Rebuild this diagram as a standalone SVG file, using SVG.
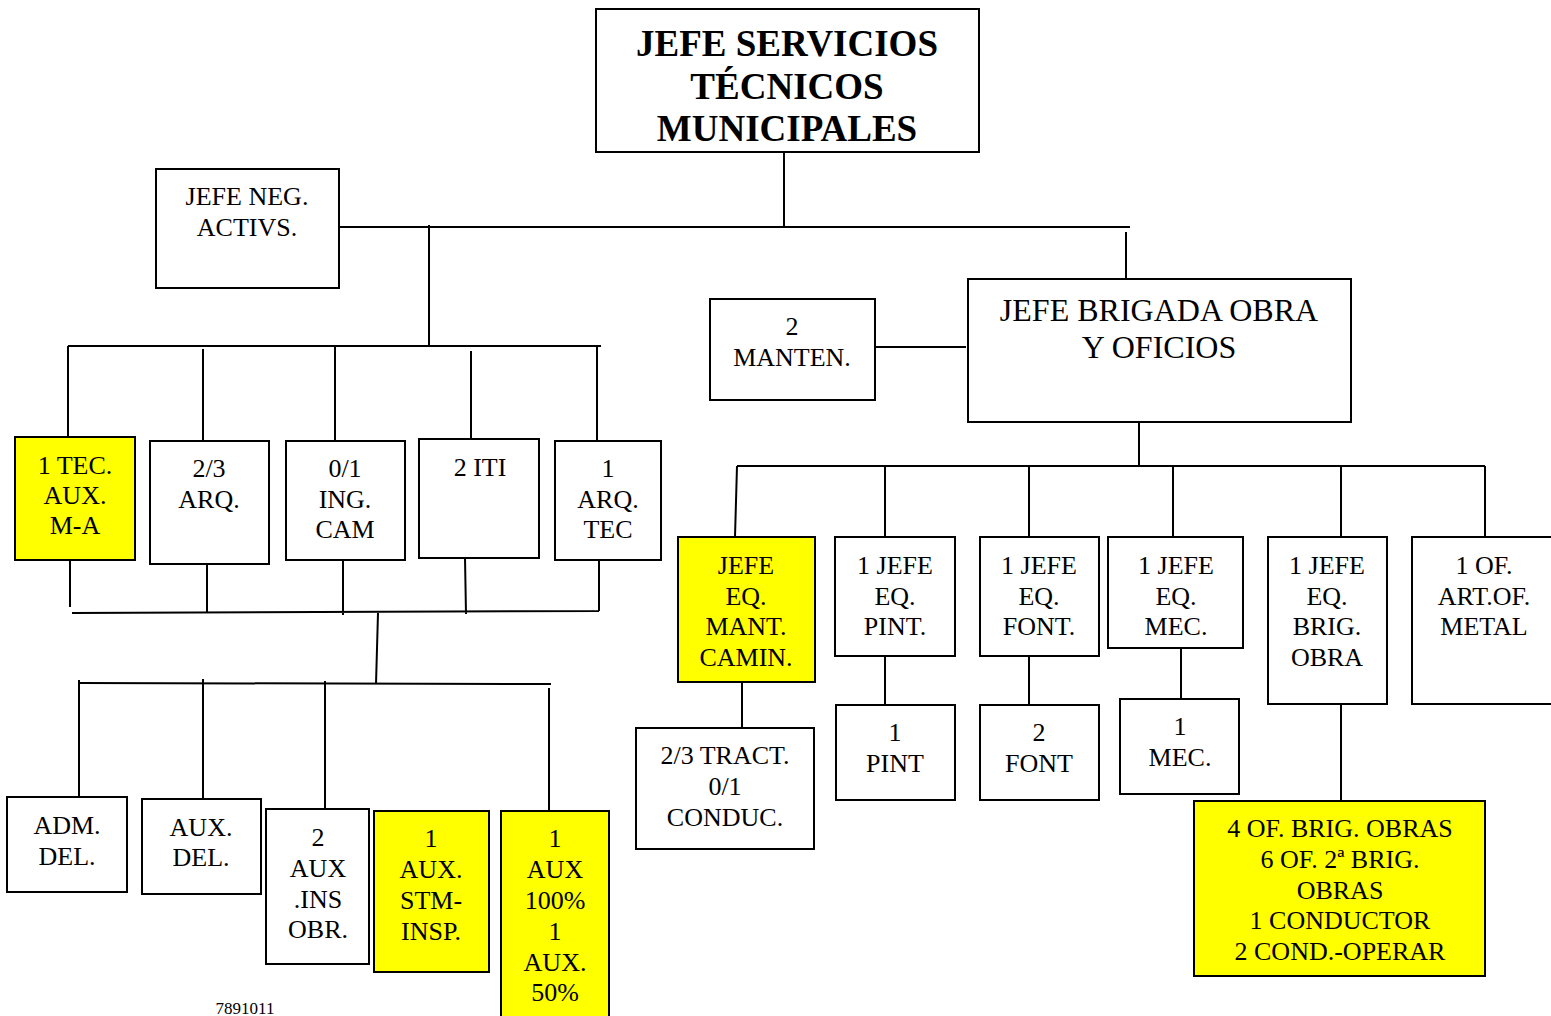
<svg xmlns="http://www.w3.org/2000/svg" width="1551" height="1016" viewBox="0 0 1551 1016" font-family="'Liberation Serif', 'Times New Roman', serif">
<style>
.b{fill:#fff;stroke:#000;stroke-width:2}
.y{fill:#ffff00;stroke:#000;stroke-width:2}
text{font-family:'Liberation Serif','Times New Roman',serif;text-anchor:middle;fill:#000}
.t{font-size:26px}
.h{font-size:37px;font-weight:bold}
.m{font-size:32px}
.c{stroke:#000;stroke-width:2;fill:none}
</style>
<rect width="1551" height="1016" fill="#fff"/>
<g id="connectors" class="c">
<path d="M784 152V228M339 227H1130M1126 232V280M429 225V346M68 346H601"/>
<path d="M68 346V437M203 349V441M335 347V441M471 351V439M597 346V441"/>
<path d="M70 560V607M207 565V612M343 561V615M465 558L466 614M599 561V611M72 613L599 611M378 613L376 684M79 683L551 684"/>
<path d="M79 680V797M203 679V799M325 681V809M549 688V811"/>
<path d="M875 347H966M1139 422V466M737 466H1485"/>
<path d="M737 466L735 537M885 466V537M1029 466V537M1173 466V537M1341 466V537M1485 466V537"/>
<path d="M742 682V737M885 656V705M1029 656V705M1181 648V699M1341 704V801"/>
</g>
<g id="n-top"><rect class="b" x="596" y="9" width="383" height="143"/>
<text class="h" x="787" y="56">JEFE SERVICIOS</text><text class="h" x="787" y="99">TÉCNICOS</text><text class="h" x="787" y="141">MUNICIPALES</text></g>
<g id="n-neg"><rect class="b" x="156" y="169" width="183" height="119"/>
<text class="t" x="247" y="205">JEFE NEG.</text><text class="t" x="247" y="236">ACTIVS.</text></g>
<g id="n-tec"><rect class="y" x="15" y="437" width="120" height="123"/>
<text class="t" x="75" y="474">1 TEC.</text><text class="t" x="75" y="504">AUX.</text><text class="t" x="75" y="534">M-A</text></g>
<g id="n-arq"><rect class="b" x="150" y="441" width="119" height="123"/>
<text class="t" x="209" y="477">2/3</text><text class="t" x="209" y="508">ARQ.</text></g>
<g id="n-ing"><rect class="b" x="286" y="441" width="119" height="119"/>
<text class="t" x="345" y="477">0/1</text><text class="t" x="345" y="508">ING.</text><text class="t" x="345" y="538">CAM</text></g>
<g id="n-iti"><rect class="b" x="419" y="439" width="120" height="119"/>
<text class="t" x="480" y="476">2 ITI</text></g>
<g id="n-arqtec"><rect class="b" x="555" y="441" width="106" height="119"/>
<text class="t" x="608" y="477">1</text><text class="t" x="608" y="508">ARQ.</text><text class="t" x="608" y="538">TEC</text></g>
<g id="n-adm"><rect class="b" x="7" y="797" width="120" height="95"/>
<text class="t" x="67" y="834">ADM.</text><text class="t" x="67" y="865">DEL.</text></g>
<g id="n-auxdel"><rect class="b" x="142" y="799" width="119" height="95"/>
<text class="t" x="201" y="836">AUX.</text><text class="t" x="201" y="866">DEL.</text></g>
<g id="n-auxins"><rect class="b" x="266" y="809" width="103" height="155"/>
<text class="t" x="318" y="846">2</text><text class="t" x="318" y="877">AUX</text><text class="t" x="318" y="908">.INS</text><text class="t" x="318" y="938">OBR.</text></g>
<g id="n-stm"><rect class="y" x="374" y="811" width="115" height="161"/>
<text class="t" x="431" y="847">1</text><text class="t" x="431" y="878">AUX.</text><text class="t" x="431" y="909">STM-</text><text class="t" x="431" y="940">INSP.</text></g>
<g id="n-aux100"><rect class="y" x="501" y="811" width="108" height="210"/>
<text class="t" x="555" y="847">1</text><text class="t" x="555" y="878">AUX</text><text class="t" x="555" y="909">100%</text><text class="t" x="555" y="940">1</text><text class="t" x="555" y="971">AUX.</text><text class="t" x="555" y="1001">50%</text></g>
<text x="245" y="1014" font-size="17">7891011</text>
<g id="n-manten"><rect class="b" x="710" y="299" width="165" height="101"/>
<text class="t" x="792" y="335">2</text><text class="t" x="792" y="366">MANTEN.</text></g>
<g id="n-brigada"><rect class="b" x="968" y="279" width="383" height="143"/>
<text class="m" x="1159" y="321">JEFE BRIGADA OBRA</text><text class="m" x="1159" y="358">Y OFICIOS</text></g>
<g id="n-mant"><rect class="y" x="678" y="537" width="137" height="145"/>
<text class="t" x="746" y="574">JEFE</text><text class="t" x="746" y="605">EQ.</text><text class="t" x="746" y="635">MANT.</text><text class="t" x="746" y="666">CAMIN.</text></g>
<g id="n-pint"><rect class="b" x="835" y="537" width="120" height="119"/>
<text class="t" x="895" y="574">1 JEFE</text><text class="t" x="895" y="605">EQ.</text><text class="t" x="895" y="635">PINT.</text></g>
<g id="n-font"><rect class="b" x="980" y="537" width="119" height="119"/>
<text class="t" x="1039" y="574">1 JEFE</text><text class="t" x="1039" y="605">EQ.</text><text class="t" x="1039" y="635">FONT.</text></g>
<g id="n-mec"><rect class="b" x="1108" y="537" width="135" height="111"/>
<text class="t" x="1176" y="574">1 JEFE</text><text class="t" x="1176" y="605">EQ.</text><text class="t" x="1176" y="635">MEC.</text></g>
<g id="n-brig"><rect class="b" x="1268" y="537" width="119" height="167"/>
<text class="t" x="1327" y="574">1 JEFE</text><text class="t" x="1327" y="605">EQ.</text><text class="t" x="1327" y="635">BRIG.</text><text class="t" x="1327" y="666">OBRA</text></g>
<g id="n-metal"><rect class="b" x="1412" y="537" width="145" height="167"/>
<text class="t" x="1484" y="574">1 OF.</text><text class="t" x="1484" y="605">ART.OF.</text><text class="t" x="1484" y="635">METAL</text></g>
<g id="n-tract"><rect class="b" x="636" y="728" width="178" height="121"/>
<text class="t" x="725" y="764">2/3 TRACT.</text><text class="t" x="725" y="795">0/1</text><text class="t" x="725" y="826">CONDUC.</text></g>
<g id="n-1pint"><rect class="b" x="836" y="705" width="119" height="95"/>
<text class="t" x="895" y="741">1</text><text class="t" x="895" y="772">PINT</text></g>
<g id="n-2font"><rect class="b" x="980" y="705" width="119" height="95"/>
<text class="t" x="1039" y="741">2</text><text class="t" x="1039" y="772">FONT</text></g>
<g id="n-1mec"><rect class="b" x="1120" y="699" width="119" height="95"/>
<text class="t" x="1180" y="735">1</text><text class="t" x="1180" y="766">MEC.</text></g>
<g id="n-ofbrig"><rect class="y" x="1194" y="801" width="291" height="175"/>
<text class="t" x="1340" y="837">4 OF. BRIG. OBRAS</text><text class="t" x="1340" y="868">6 OF. 2ª BRIG.</text><text class="t" x="1340" y="899">OBRAS</text><text class="t" x="1340" y="929">1 CONDUCTOR</text><text class="t" x="1340" y="960">2 COND.-OPERAR</text></g>
</svg>
